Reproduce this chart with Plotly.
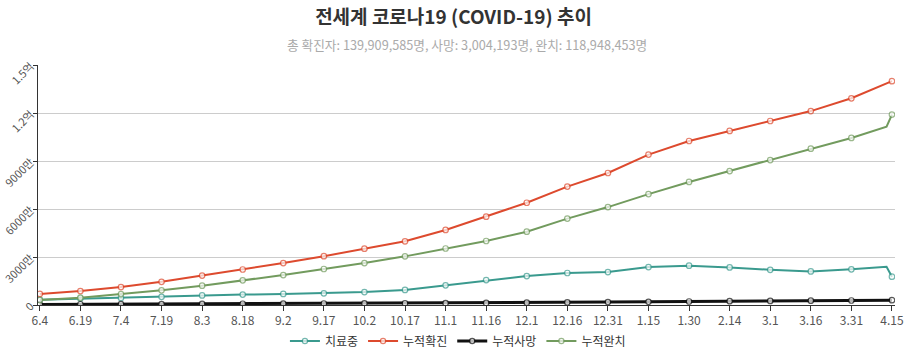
import plotly.graph_objects as go

# ---- data ----
dates = ["2020-06-04", "2020-06-19", "2020-07-04", "2020-07-19", "2020-08-03", "2020-08-18",
         "2020-09-02", "2020-09-17", "2020-10-02", "2020-10-17", "2020-11-01", "2020-11-16",
         "2020-12-01", "2020-12-16", "2020-12-31", "2021-01-15", "2021-01-30", "2021-02-14",
         "2021-03-01", "2021-03-16", "2021-03-31", "2021-04-13", "2021-04-15"]
show_marker = [1] * 21 + [0, 1]

active = [3300000, 4000000, 4400000, 5100000, 6000000, 6500000, 6900000, 7300000, 8100000,
          9400000, 12300000, 15600000, 18100000, 20000000, 20600000, 23700000, 24600000,
          23500000, 22000000, 21000000, 22300000, 23900000, 17700000]
confirmed = [6900000, 8700000, 11200000, 14500000, 18400000, 22200000, 26200000, 30500000,
             35200000, 39800000, 46900000, 55200000, 63900000, 74000000, 82500000, 94000000,
             102500000, 108800000, 115000000, 121200000, 129200000, 138300000, 139900000]
deaths = [390000, 460000, 530000, 600000, 690000, 780000, 870000, 940000, 1020000, 1100000,
          1190000, 1320000, 1470000, 1640000, 1820000, 2000000, 2200000, 2400000, 2550000,
          2680000, 2820000, 2980000, 3004000]
recovered = [3100000, 4600000, 6800000, 9200000, 12100000, 15400000, 18700000, 22500000,
             26200000, 30400000, 35300000, 40000000, 45800000, 54000000, 61200000, 69300000,
             76900000, 83700000, 90600000, 97700000, 104400000, 111500000, 119000000]

names = ["치료중", "누적확진", "누적사망", "누적완치"]
colors = ["#3a9a8e", "#dd4a2e", "#111111", "#729b5e"]
series = [active, confirmed, deaths, recovered]
widths = [2, 2, 3, 2]

tick_dates = [d for d, m in zip(dates, show_marker) if m]
tick_labels = ["6.4", "6.19", "7.4", "7.19", "8.3", "8.18", "9.2", "9.17", "10.2", "10.17",
               "11.1", "11.16", "12.1", "12.16", "12.31", "1.15", "1.30", "2.14", "3.1",
               "3.16", "3.31", "4.15"]
y_ticks = [0, 30000000, 60000000, 90000000, 120000000, 150000000]
y_labels = ["0", "3000만", "6000만", "9000만", "1.2억", "1.5억"]

title = "전세계 코로나19 (COVID-19) 추이"
subtitle = "총 확진자: 139,909,585명, 사망: 3,004,193명, 완치: 118,948,453명"

FONT = "Noto Sans CJK KR, Noto Sans, sans-serif"

fig = go.Figure()
for name, col, vals, w in zip(names, colors, series, widths):
    fig.add_trace(go.Scatter(
        x=dates, y=vals, name=name, mode="lines+markers",
        line=dict(color=col, width=w),
        marker=dict(size=[5.5 if m else 0 for m in show_marker], color="white",
                    line=dict(color=col, width=1.2)),
    ))

fig.update_layout(
    width=907, height=355,
    margin=dict(l=38, r=12, t=65, b=50, autoexpand=False),
    paper_bgcolor="white", plot_bgcolor="white",
    font=dict(family=FONT, size=12, color="#555"),
    title=dict(text="<b>" + title + "</b>", x=0.5, xanchor="center",
               y=1 - 17 / 355, yanchor="middle",
               font=dict(size=19, color="#333", family=FONT)),
    annotations=[dict(text=subtitle, xref="paper", yref="paper", x=0.5, xanchor="center",
                      y=1 + (65 - 44) / 240, yanchor="middle", showarrow=False,
                      font=dict(size=12.7, color="#aaa", family=FONT))],
    legend=dict(orientation="h", x=0.49, xanchor="center", y=-36 / 240, yanchor="middle",
                font=dict(size=12, color="#333"), itemwidth=30),
    showlegend=True,
)
fig.update_xaxes(
    type="date", range=["2020-06-03 08:00", "2021-04-16 03:00"],
    tickvals=tick_dates, ticktext=tick_labels, automargin=False,
    showline=True, linecolor="#333", linewidth=1,
    ticks="outside", ticklen=5, tickcolor="#333",
    showgrid=False, zeroline=False,
    tickfont=dict(size=12, color="#555"),
)
fig.update_yaxes(
    range=[0, 150000000], tickvals=y_ticks, ticktext=y_labels, automargin=False,
    tickangle=-45, showline=True, linecolor="#333", linewidth=1,
    ticks="outside", ticklen=4, tickcolor="#333",
    showgrid=True, gridcolor="#cccccc", gridwidth=1, zeroline=False,
    tickfont=dict(size=11, color="#555"),
)

fig.write_html("out.html", config={"displayModeBar": False},
               post_script="document.body.style.margin='0';document.body.style.overflow='hidden';")
